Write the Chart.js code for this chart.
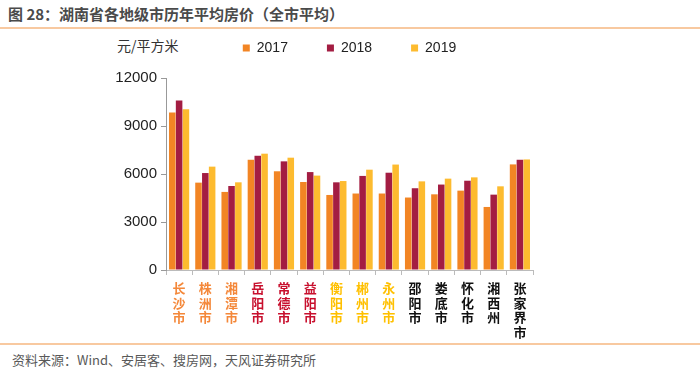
<!DOCTYPE html>
<html lang="zh">
<head>
<meta charset="UTF-8">
<title>湖南省各地级市历年平均房价</title>
<script src="https://cdn.jsdelivr.net/npm/chart.js"></script>
<style>
    body {
        margin: 0;
        width: 700px;
        height: 374px;
        position: relative;
        background: #fff;
        font-family: 'Noto Sans CJK SC', 'Liberation Sans', sans-serif;
        overflow: hidden;
    }

    .title {
        position: absolute;
        left: 8px;
        top: 3px;
        font-size: 15px;
        font-weight: bold;
        color: #4a4a4a;
        white-space: nowrap;
    }

    .line {
        position: absolute;
        left: 0;
        width: 700px;
        height: 2px;
        background-color: #f8c9a0;
    }

    .unit {
        position: absolute;
        left: 117px;
        top: 35px;
        font-size: 14px;
        color: #333;
    }

    .source {
        position: absolute;
        left: 12px;
        top: 350px;
        font-size: 13px;
        color: #595959;
        white-space: nowrap;
    }

    #priceChart {
        position: absolute;
        left: 0;
        top: 2px;
    }
</style>
</head>
<body>
    <div class="title">图 28：湖南省各地级市历年平均房价（全市平均）</div>
    <div class="line" style="top: 27px;"></div>
    <div class="unit">元/平方米</div>
    <canvas id="priceChart" width="700" height="343"></canvas>
    <div class="line" style="top: 343px;"></div>
    <div class="source">资料来源：Wind、安居客、搜房网，天风证券研究所</div>

    <script>
        const cities = ['长沙市', '株洲市', '湘潭市', '岳阳市', '常德市', '益阳市', '衡阳市',
            '郴州市', '永州市', '邵阳市', '娄底市', '怀化市', '湘西州', '张家界市'];
        const price2017 = [9850, 5460, 4880, 6890, 6170, 5500, 4690, 4780, 4780, 4530, 4730, 4960, 3940, 6600];
        const price2018 = [10600, 6060, 5250, 7140, 6790, 6120, 5480, 5880, 6080, 5110, 5340, 5580, 4710, 6890];
        const price2019 = [10050, 6460, 5480, 7270, 7020, 5900, 5560, 6270, 6590, 5540, 5710, 5790, 5230, 6910];
        const yTicks = [0, 3000, 6000, 9000, 12000];
        const labelColors = ['#f4883a', '#f4883a', '#f4883a', '#c8102e', '#c8102e', '#c8102e',
            '#ffc000', '#ffc000', '#ffc000', '#111', '#111', '#111', '#111', '#111'];

        // one char per line, the labels are written top to bottom
        const vertical = s => s.split('');

        // legend needs more room below it than chart.js gives
        const legendGap = {
            id: 'legendGap',
            beforeUpdate(chart) {
                const legend = chart.legend;
                if (legend && !legend._patched) {
                    const fit = legend.fit;
                    legend.fit = function () {
                        fit.call(this);
                        this.height += 13;
                    };
                    legend._patched = true;
                }
            }
        };

        const ctx = document.getElementById('priceChart').getContext('2d');
        const chart = new Chart(ctx, {
            type: 'bar',
            data: {
                labels: cities.map(vertical),
                datasets: [
                    { label: '2017', data: price2017, backgroundColor: '#f28524' },
                    { label: '2018', data: price2018, backgroundColor: '#a31d42' },
                    { label: '2019', data: price2019, backgroundColor: '#fdbb2f' }
                ]
            },
            options: {
                responsive: false,
                animation: false,
                layout: {
                    padding: { left: 0, right: 167, top: 0, bottom: 0 }
                },
                datasets: {
                    bar: {
                        categoryPercentage: 0.78,
                        barPercentage: 0.96,
                        borderWidth: 0
                    }
                },
                plugins: {
                    legend: {
                        position: 'top',
                        fullSize: false,
                        labels: {
                            boxWidth: 7,
                            boxHeight: 7,
                            padding: 39,
                            color: '#222',
                            font: { family: 'Liberation Sans', size: 14 }
                        }
                    },
                    tooltip: { enabled: false }
                },
                scales: {
                    x: {
                        grid: {
                            display: true,
                            drawOnChartArea: false,
                            offset: true,
                            tickLength: 5,
                            color: '#bbb'
                        },
                        border: { color: '#bbb' },
                        ticks: {
                            autoSkip: false,
                            maxRotation: 0,
                            padding: 6,
                            color: c => labelColors[c.index],
                            font: { family: 'Noto Sans CJK SC', size: 13, weight: 'bold', lineHeight: 1.12 }
                        },
                        afterFit(scale) {
                            scale.height = 75;
                        }
                    },
                    y: {
                        min: 0,
                        max: 12000,
                        afterBuildTicks(scale) {
                            scale.ticks = yTicks.map(v => ({ value: v }));
                        },
                        grid: {
                            display: true,
                            drawOnChartArea: false,
                            tickLength: 5,
                            color: '#999'
                        },
                        border: { color: '#999' },
                        ticks: {
                            padding: 4,
                            color: '#222',
                            font: { family: 'Liberation Sans', size: 15 },
                            callback: v => String(v)
                        },
                        afterFit(scale) {
                            scale.width = 166;
                        }
                    }
                }
            },
            plugins: [legendGap]
        });
    </script>
</body>
</html>
